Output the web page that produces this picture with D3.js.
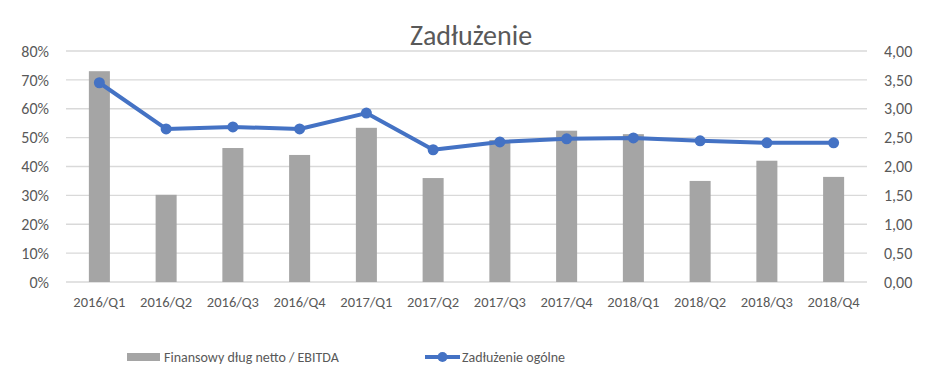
<!DOCTYPE html>
<html>
<head>
<meta charset="utf-8">
<script src="https://cdn.jsdelivr.net/npm/d3@7"></script>
<style>
  body { margin: 0; background: #fff; }
  svg text { font-family: Carlito, Calibri, "Open Sans", "Liberation Sans", sans-serif; fill: #595959; }
</style>
</head>
<body>
<div id="chart"></div>
<script>
const categories = ['2016/Q1', '2016/Q2', '2016/Q3', '2016/Q4', '2017/Q1', '2017/Q2', '2017/Q3', '2017/Q4', '2018/Q1', '2018/Q2', '2018/Q3', '2018/Q4'];
// Finansowy dług netto / EBITDA (right axis)
const debtEbitda = [3.65, 1.51, 2.32, 2.20, 2.67, 1.80, 2.46, 2.62, 2.56, 1.75, 2.10, 1.82];
// Zadłużenie ogólne (left axis, %)
const totalDebt = [0.690, 0.530, 0.537, 0.530, 0.585, 0.458, 0.485, 0.496, 0.499, 0.489, 0.482, 0.482];
const leftTicks = [0, 0.1, 0.2, 0.3, 0.4, 0.5, 0.6, 0.7, 0.8];
const rightTicks = [0, 0.5, 1, 1.5, 2, 2.5, 3, 3.5, 4];

const width = 944, height = 375;
const margin = { top: 51, right: 77, bottom: 93, left: 66 };

const svg = d3.select('#chart').append('svg')
    .attr('width', width)
    .attr('height', height);

const x = d3.scaleBand()
    .domain(categories)
    .range([margin.left, width - margin.right])
    .paddingInner(0.685)
    .paddingOuter(0.3425);

const xCenter = d => x(d) + x.bandwidth() / 2;

const yLeft = d3.scaleLinear().domain([0, 0.8]).range([height - margin.bottom, margin.top]);
const yRight = d3.scaleLinear().domain([0, 4]).range([height - margin.bottom, margin.top]);

// gridlines
svg.append('g')
    .selectAll('line')
    .data(leftTicks)
    .join('line')
    .attr('x1', margin.left)
    .attr('x2', width - margin.right)
    .attr('y1', d => yLeft(d))
    .attr('y2', d => yLeft(d))
    .attr('stroke', '#d9d9d9')
    .attr('stroke-width', 1.3);

// left axis
const leftAxis = svg.append('g')
    .attr('transform', `translate(${margin.left - 17},0)`)
    .call(d3.axisLeft(yLeft).tickValues(leftTicks).tickSize(0).tickFormat(d => Math.round(d * 100) + '%'));
leftAxis.select('.domain').remove();
leftAxis.selectAll('text').attr('font-size', 16).attr('x', 0);

// right axis
const rightAxis = svg.append('g')
    .attr('transform', `translate(${width - margin.right + 17},0)`)
    .call(d3.axisRight(yRight).tickValues(rightTicks).tickSize(0).tickFormat(d => d.toFixed(2).replace('.', ',')));
rightAxis.select('.domain').remove();
rightAxis.selectAll('text').attr('font-size', 16).attr('x', 0);

// x axis labels
const xAxis = svg.append('g')
    .attr('transform', `translate(0,${height - margin.bottom + 12})`)
    .call(d3.axisBottom(x).tickSize(0));
xAxis.select('.domain').remove();
xAxis.selectAll('text').attr('font-size', 14.5).attr('dy', '0.71em');

// bars
svg.append('g')
    .selectAll('rect')
    .data(categories)
    .join('rect')
    .attr('x', d => x(d))
    .attr('width', x.bandwidth())
    .attr('y', (d, i) => yRight(debtEbitda[i]))
    .attr('height', (d, i) => yRight(0) - yRight(debtEbitda[i]))
    .attr('fill', '#a5a5a5');

// line
const line = d3.line()
    .x((d, i) => xCenter(categories[i]))
    .y(d => yLeft(d));

svg.append('path')
    .datum(totalDebt)
    .attr('fill', 'none')
    .attr('stroke', '#4472c4')
    .attr('stroke-width', 4)
    .attr('stroke-linejoin', 'round')
    .attr('d', line);

svg.append('g')
    .selectAll('circle')
    .data(totalDebt)
    .join('circle')
    .attr('cx', (d, i) => xCenter(categories[i]))
    .attr('cy', d => yLeft(d))
    .attr('r', 5.5)
    .attr('fill', '#4472c4');

// title
svg.append('text')
    .attr('x', 471)
    .attr('y', 45)
    .attr('text-anchor', 'middle')
    .attr('font-size', 28)
    .text('Zadłużenie');

// legend
const legend = svg.append('g').attr('transform', 'translate(0,357)');
legend.append('rect')
    .attr('x', 127).attr('y', -4)
    .attr('width', 33).attr('height', 8)
    .attr('fill', '#a5a5a5');
legend.append('text')
    .attr('x', 164).attr('y', 0)
    .attr('dy', '0.35em')
    .attr('font-size', 14)
    .text('Finansowy dług netto / EBITDA');
legend.append('line')
    .attr('x1', 425).attr('x2', 460)
    .attr('y1', 0).attr('y2', 0)
    .attr('stroke', '#4472c4')
    .attr('stroke-width', 4);
legend.append('circle')
    .attr('cx', 442.5).attr('cy', 0)
    .attr('r', 5)
    .attr('fill', '#4472c4');
legend.append('text')
    .attr('x', 462).attr('y', 0)
    .attr('dy', '0.35em')
    .attr('font-size', 14)
    .text('Zadłużenie ogólne');
</script>
</body>
</html>
